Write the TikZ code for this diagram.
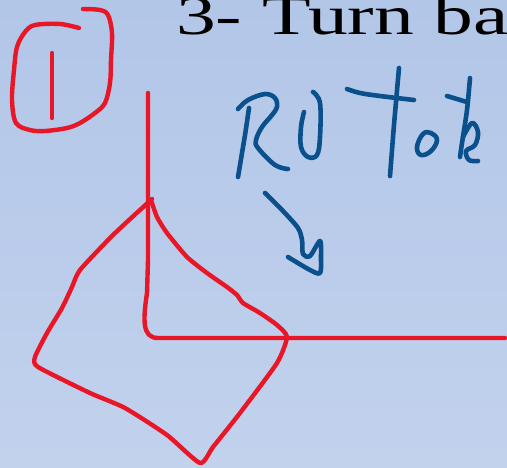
\documentclass[tikz,border=0pt]{standalone}
\usepackage{fontspec}
\usepackage{graphicx}
\setmainfont{Liberation Serif}
\definecolor{inkred}{RGB}{232,22,38}
\definecolor{inkblue}{RGB}{10,80,140}
\definecolor{bgtop}{RGB}{178,198,232}
\definecolor{bgmid}{RGB}{168,190,228}
\definecolor{bgbot}{RGB}{194,210,237}
\tikzset{
  redink/.style={draw=inkred, line width=4.4pt, line cap=round, line join=round},
  blueink/.style={draw=inkblue, line width=4.6pt, line cap=round, line join=round},
}
\begin{document}
\begin{tikzpicture}[x=1pt,y=-1pt]
\useasboundingbox (0,0) rectangle (507,467);
\clip (0,0) rectangle (507,467);
\shade[top color=bgtop, middle color=bgmid, bottom color=bgbot] (0,0) rectangle (507,467);
% title text
\node[anchor=base west, inner sep=0pt] (title) at (176,34)
  {\scalebox{1.5}[1.04]{\fontsize{53}{60}\selectfont 3- Turn ba}};
% circled 1
\draw[redink] plot[smooth, tension=0.55] coordinates {(83,9) (100,10) (108,15) (112,33) (111,60) (110,83) (105,103) (95,113) (80,123) (67,128) (45,131) (30,130) (16,123) (12,100) (14,70) (17,47) (25,32) (35,25) (60,24) (79,28)};
\draw[redink] (52,53) -- (52,118);
% axes
\draw[redink] (148,93) -- (148,260) -- (147,293) .. controls (143,320) and (142,338) .. (158,338) -- (505,338);
% tilted square
\draw[redink] plot[smooth, tension=0.35] coordinates {(152,199) (113,235) (80,270) (72,287) (62,308) (47,333) (35,357) (38,367) (90,393) (125,408) (167,435) (200,463) (213,447) (240,413) (277,363) (287,337) (277,325) (260,313) (243,303) (237,295) (227,287) (207,273) (187,257) (167,233) (157,217) (151,200)};
% RU Tok
\draw[blueink] plot[smooth] coordinates {(249,108) (245,135) (238,177)};
\draw[blueink] plot[smooth, tension=0.6] coordinates {(238,109) (248,100) (265,94) (275,98) (277,107) (272,115) (262,127) (256,140) (258,148) (275,165) (288,169)};
\draw[blueink] plot[smooth, tension=0.6] coordinates {(313,92) (320,103) (320,137) (317,155) (308,157) (301,147) (301,127) (304,112)};
\draw[blueink] plot[smooth, tension=0.6] coordinates {(347,89) (360,93) (380,96) (414,100)};
\draw[blueink] plot[smooth] coordinates {(399,68) (394,125) (390,176)};
\draw[blueink] plot[smooth cycle, tension=0.7] coordinates {(437,140) (431,133) (423,134) (417,147) (421,155) (431,151)};
\draw[blueink] plot[smooth, tension=0.6] coordinates {(447,96) (457,99) (467,102)};
\draw[blueink] plot[smooth] coordinates {(470,78) (467,110) (462,143) (460,157)};
\draw[blueink] plot[smooth, tension=0.6] coordinates {(463,137) (472,123) (478,132) (475,145) (466,151) (469,160) (478,161)};
% arrow
\draw[blueink] plot[smooth, tension=0.5] coordinates {(265,193) (283,211) (298,228) (302,240) (303,254) (310,256) (320,241) (321,258) (320,273) (310,270) (288,257)};
\end{tikzpicture}
\end{document}
